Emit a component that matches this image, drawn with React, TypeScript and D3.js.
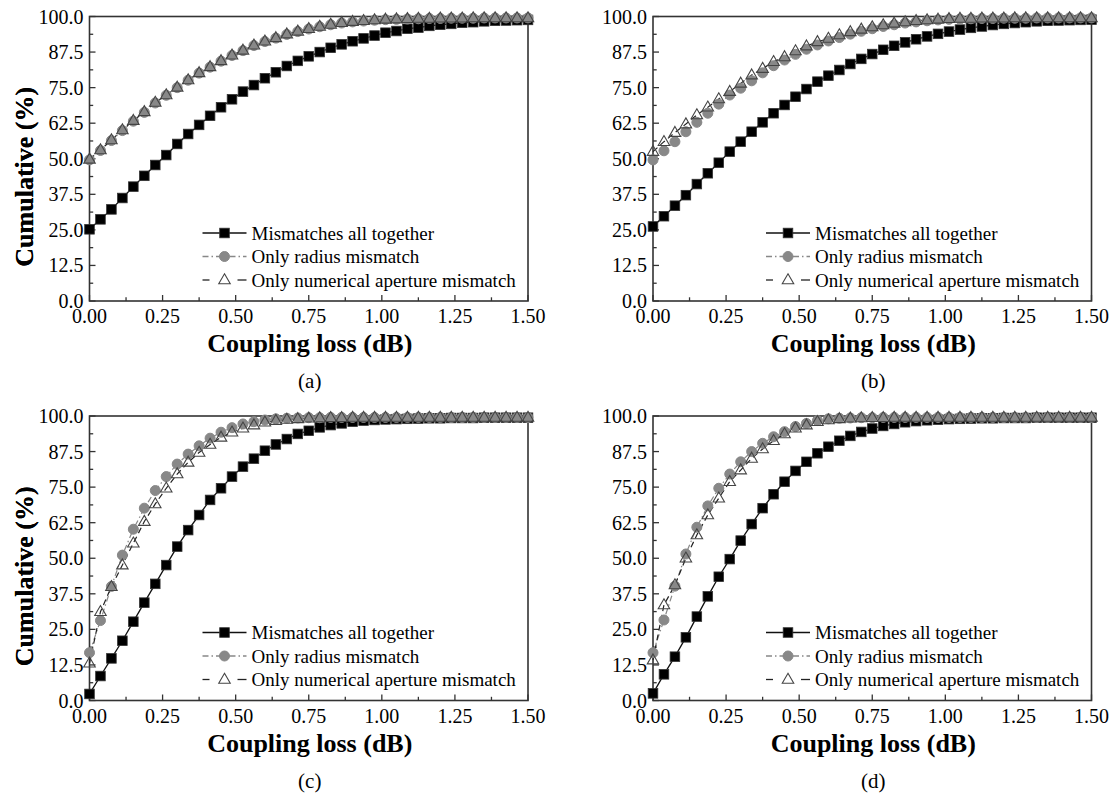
import React, { useRef, useEffect } from 'react';
import * as d3 from 'd3';

// coupling loss sample points (dB)
const LOSS = [
  0, 0.0375, 0.075, 0.1125, 0.15, 0.1875, 0.225, 0.2625, 0.3, 0.3375,
  0.375, 0.4125, 0.45, 0.4875, 0.525, 0.5625, 0.6, 0.6375, 0.675, 0.7125,
  0.75, 0.7875, 0.825, 0.8625, 0.9, 0.9375, 0.975, 1.0125, 1.05, 1.0875,
  1.125, 1.1625, 1.2, 1.2375, 1.275, 1.3125, 1.35, 1.3875, 1.425, 1.4625, 1.5,
];

const X_TICKS = [0, 0.25, 0.5, 0.75, 1.0, 1.25, 1.5];
const Y_TICKS = [0, 12.5, 25, 37.5, 50, 62.5, 75, 87.5, 100];
const SERIES_LABELS = ['Mismatches all together', 'Only radius mismatch', 'Only numerical aperture mismatch'];
const PANEL_LABELS = ['(a)', '(b)', '(c)', '(d)'];

// (a)
const A_ALL = [25.2, 28.7, 32.2, 36.2, 40.2, 44.0, 47.8, 51.3, 55.2, 58.7, 61.9, 65.1, 68.1, 70.9, 73.6, 75.9, 78.3, 80.4, 82.6, 84.4, 86.0, 87.5, 89.0, 90.2, 91.3, 92.3, 93.3, 94.3, 94.9, 95.7, 96.1, 96.7, 97.1, 97.4, 97.8, 98.0, 98.3, 98.5, 98.6, 98.7, 98.8];
const A_RADIUS = [49.6, 52.9, 56.4, 59.9, 63.2, 66.3, 69.6, 72.3, 75.0, 77.6, 80.1, 82.2, 84.3, 86.3, 88.0, 89.8, 91.2, 92.4, 93.7, 94.7, 95.6, 96.4, 97.1, 97.7, 98.1, 98.4, 98.7, 98.9, 99.0, 99.1, 99.2, 99.3, 99.3, 99.4, 99.4, 99.4, 99.5, 99.5, 99.5, 99.5, 99.5];
const A_NA = [49.8, 53.1, 56.6, 60.1, 63.4, 66.5, 69.8, 72.4, 75.1, 77.7, 80.2, 82.3, 84.4, 86.4, 88.1, 89.9, 91.3, 92.5, 93.8, 94.8, 95.7, 96.5, 97.2, 97.8, 98.2, 98.5, 98.8, 99.0, 99.1, 99.2, 99.3, 99.3, 99.4, 99.4, 99.4, 99.5, 99.5, 99.5, 99.5, 99.5, 99.5];

// (b)
const B_ALL = [26.2, 29.8, 33.5, 37.2, 41.1, 44.9, 48.6, 52.5, 56.0, 59.5, 62.8, 66.0, 68.9, 71.8, 74.5, 77.1, 79.2, 81.2, 83.3, 85.1, 86.8, 88.3, 89.7, 90.9, 92.0, 93.0, 93.9, 94.7, 95.4, 96.0, 96.5, 97.0, 97.4, 97.7, 98.0, 98.3, 98.5, 98.6, 98.7, 98.8, 98.9];
const B_RADIUS = [49.6, 52.8, 56.0, 59.5, 62.8, 66.0, 69.2, 72.4, 74.8, 77.4, 80.2, 82.7, 84.7, 86.7, 88.5, 90.0, 91.4, 92.6, 93.8, 94.8, 95.7, 96.5, 97.1, 97.7, 98.1, 98.5, 98.8, 99.0, 99.1, 99.2, 99.3, 99.3, 99.4, 99.4, 99.4, 99.5, 99.5, 99.5, 99.5, 99.5, 99.5];
const B_NA = [52.5, 56.0, 59.2, 62.2, 65.4, 68.1, 71.0, 73.6, 76.5, 79.4, 81.7, 84.1, 85.8, 87.9, 89.6, 91.1, 92.3, 93.5, 94.6, 95.5, 96.3, 97.0, 97.6, 98.1, 98.5, 98.8, 99.0, 99.2, 99.3, 99.3, 99.4, 99.4, 99.4, 99.5, 99.5, 99.5, 99.5, 99.5, 99.5, 99.5, 99.5];

// (c)
const C_ALL = [2.3, 8.6, 14.8, 21.0, 27.7, 34.4, 41.0, 47.6, 54.1, 59.9, 65.2, 70.5, 74.6, 78.7, 82.2, 85.0, 87.8, 90.0, 91.9, 93.7, 94.8, 96.0, 96.8, 97.4, 98.0, 98.4, 98.6, 98.8, 98.9, 99.0, 99.1, 99.2, 99.2, 99.3, 99.3, 99.3, 99.4, 99.4, 99.4, 99.4, 99.4];
const C_RADIUS = [16.8, 28.1, 40.1, 51.1, 60.2, 67.6, 73.8, 78.7, 83.1, 86.6, 89.5, 92.2, 94.3, 95.9, 97.2, 98.0, 98.6, 99.0, 99.2, 99.3, 99.4, 99.4, 99.5, 99.5, 99.5, 99.5, 99.5, 99.5, 99.5, 99.5, 99.5, 99.5, 99.5, 99.5, 99.5, 99.5, 99.5, 99.5, 99.5, 99.5, 99.5];
const C_NA = [13.1, 31.2, 40.0, 47.6, 55.3, 62.9, 69.1, 74.6, 79.6, 83.7, 87.2, 90.0, 92.5, 94.3, 95.7, 96.8, 97.8, 98.4, 98.8, 99.0, 99.2, 99.3, 99.4, 99.4, 99.5, 99.5, 99.5, 99.5, 99.5, 99.5, 99.5, 99.5, 99.5, 99.5, 99.5, 99.5, 99.5, 99.5, 99.5, 99.5, 99.5];

// (d)
const D_ALL = [2.5, 9.2, 15.4, 22.2, 29.5, 36.6, 43.5, 49.7, 56.2, 62.0, 67.6, 72.5, 76.9, 80.7, 83.9, 86.9, 89.2, 91.3, 93.0, 94.4, 95.6, 96.5, 97.2, 97.8, 98.2, 98.5, 98.7, 98.9, 99.0, 99.1, 99.2, 99.2, 99.3, 99.3, 99.3, 99.4, 99.4, 99.4, 99.4, 99.4, 99.4];
const D_RADIUS = [16.8, 28.3, 40.2, 51.5, 60.9, 68.4, 74.6, 79.6, 83.9, 87.5, 90.4, 92.7, 94.5, 96.3, 97.4, 98.4, 99.0, 99.2, 99.3, 99.4, 99.4, 99.5, 99.5, 99.5, 99.5, 99.5, 99.5, 99.5, 99.5, 99.5, 99.5, 99.5, 99.5, 99.5, 99.5, 99.5, 99.5, 99.5, 99.5, 99.5, 99.5];
const D_NA = [14.2, 33.6, 40.6, 50.0, 58.2, 65.2, 71.1, 76.9, 81.0, 85.1, 88.4, 91.3, 93.7, 95.7, 96.8, 98.0, 98.6, 99.0, 99.2, 99.3, 99.4, 99.4, 99.5, 99.5, 99.5, 99.5, 99.5, 99.5, 99.5, 99.5, 99.5, 99.5, 99.5, 99.5, 99.5, 99.5, 99.5, 99.5, 99.5, 99.5, 99.5];

const PANELS = [
  [A_ALL, A_RADIUS, A_NA],
  [B_ALL, B_RADIUS, B_NA],
  [C_ALL, C_RADIUS, C_NA],
  [D_ALL, D_RADIUS, D_NA],
];

const FONT = '"Liberation Serif", "Times New Roman", serif';

function App() {
  const ref = useRef<SVGSVGElement>(null);

  useEffect(() => {
    const svg = d3.select(ref.current);
    svg.selectAll('*').remove();

    const W = 438.5;
    const H = 284.5;
    const origins = [[89.5, 16.5], [653, 16.5], [89.5, 416], [653, 416]];

    const x = d3.scaleLinear().domain([0, 1.5]).range([0, W]);
    const y = d3.scaleLinear().domain([0, 100]).range([H, 0]);

    const styles = [
      { stroke: '#111', dash: null, width: 1.3 },
      { stroke: '#888', dash: '6,3,1.5,3', width: 1.2 },
      { stroke: '#222', dash: '6,4', width: 1.2 },
    ];

    const drawMarker = (sel, kind, cx, cy) => {
      if (kind === 0) {
        sel.append('rect')
          .attr('x', cx - 4.8).attr('y', cy - 4.8)
          .attr('width', 9.6).attr('height', 9.6)
          .attr('fill', '#000').attr('stroke', '#333').attr('stroke-width', 0.8);
      } else if (kind === 1) {
        sel.append('circle')
          .attr('cx', cx).attr('cy', cy).attr('r', 5)
          .attr('fill', '#888').attr('stroke', '#888');
      } else {
        const s = 11.5;
        const h = s * Math.sqrt(3) / 2;
        sel.append('path')
          .attr('d', `M${cx},${cy - h * 0.62}L${cx + s / 2},${cy + h * 0.38}L${cx - s / 2},${cy + h * 0.38}Z`)
          .attr('fill', 'none').attr('stroke', '#444').attr('stroke-width', 1.1);
      }
    };

    PANELS.forEach((series, p) => {
      const [ox, oy] = origins[p];
      const g = svg.append('g').attr('transform', `translate(${ox},${oy})`);

      // frame
      g.append('rect')
        .attr('width', W).attr('height', H)
        .attr('fill', 'none').attr('stroke', '#333').attr('stroke-width', 1.6);

      // x ticks (inward) + minor
      const xMinor = d3.range(0, 1.5001, 0.125);
      xMinor.forEach((t, i) => {
        const len = i % 2 === 0 ? 6 : 3.7;
        g.append('line')
          .attr('x1', x(t)).attr('x2', x(t))
          .attr('y1', H).attr('y2', H - len)
          .attr('stroke', '#333').attr('stroke-width', 1.3);
      });
      X_TICKS.forEach(t => {
        g.append('text')
          .attr('x', x(t)).attr('y', H + 22)
          .attr('text-anchor', 'middle')
          .style('font-family', FONT).style('font-size', '20px')
          .text(d3.format('.2f')(t));
      });

      const yMinor = d3.range(0, 100.01, 6.25);
      yMinor.forEach((t, i) => {
        const len = i % 2 === 0 ? 6 : 3.7;
        g.append('line')
          .attr('x1', 0).attr('x2', len)
          .attr('y1', y(t)).attr('y2', y(t))
          .attr('stroke', '#333').attr('stroke-width', 1.3);
      });
      Y_TICKS.forEach(t => {
        g.append('text')
          .attr('x', -6).attr('y', y(t))
          .attr('dy', '0.35em')
          .attr('text-anchor', 'end')
          .style('font-family', FONT).style('font-size', '20px')
          .text(d3.format('.1f')(t));
      });

      // axis titles
      g.append('text')
        .attr('x', W / 2 + 1).attr('y', H + 51)
        .attr('text-anchor', 'middle')
        .style('font-family', FONT).style('font-size', '26px').style('font-weight', 'bold')
        .text('Coupling loss (dB)');
      g.append('text')
        .attr('transform', `translate(${-ox + 32.5},${H / 2 + 18}) rotate(-90)`)
        .attr('text-anchor', 'middle')
        .style('font-family', FONT).style('font-size', '26px').style('font-weight', 'bold')
        .text('Cumulative (%)');
      g.append('text')
        .attr('x', W / 2 + 1).attr('y', H + 87)
        .attr('text-anchor', 'middle')
        .style('font-family', FONT).style('font-size', '21px')
        .text(PANEL_LABELS[p]);

      // lines
      series.forEach((vals, k) => {
        const line = d3.line<number>().x((d, i) => x(LOSS[i])).y(d => y(d));
        g.append('path')
          .attr('d', line(vals))
          .attr('fill', 'none')
          .attr('stroke', styles[k].stroke)
          .attr('stroke-width', styles[k].width)
          .attr('stroke-dasharray', styles[k].dash);
      });

      // markers
      series.forEach((vals, k) => {
        const mg = g.append('g');
        vals.forEach((v, i) => drawMarker(mg, k, x(LOSS[i]), y(v)));
      });

      // legend
      const lg = g.append('g').attr('transform', 'translate(113, 216.5)');
      SERIES_LABELS.forEach((label, k) => {
        const row = lg.append('g').attr('transform', `translate(0, ${k * 23.5})`);
        if (k === 2) {
          row.append('line').attr('x1', 0).attr('x2', 7).attr('y1', 0).attr('y2', 0)
            .attr('stroke', styles[k].stroke).attr('stroke-width', 1.3);
          row.append('line').attr('x1', 35).attr('x2', 44).attr('y1', 0).attr('y2', 0)
            .attr('stroke', styles[k].stroke).attr('stroke-width', 1.3);
        } else {
          row.append('line').attr('x1', 0).attr('x2', 44).attr('y1', 0).attr('y2', 0)
            .attr('stroke', styles[k].stroke).attr('stroke-width', 1.3)
            .attr('stroke-dasharray', styles[k].dash);
        }
        drawMarker(row, k, 22, 0);
        row.append('text')
          .attr('x', 49).attr('y', 0).attr('dy', '0.35em')
          .style('font-family', FONT).style('font-size', '19px')
          .text(label);
      });
    });
  }, []);

  return (
    <svg ref={ref} width={1114} height={795}
      style={{ position: 'absolute', left: 0, top: 0, background: '#fff' }} />
  );
}

export default App;
